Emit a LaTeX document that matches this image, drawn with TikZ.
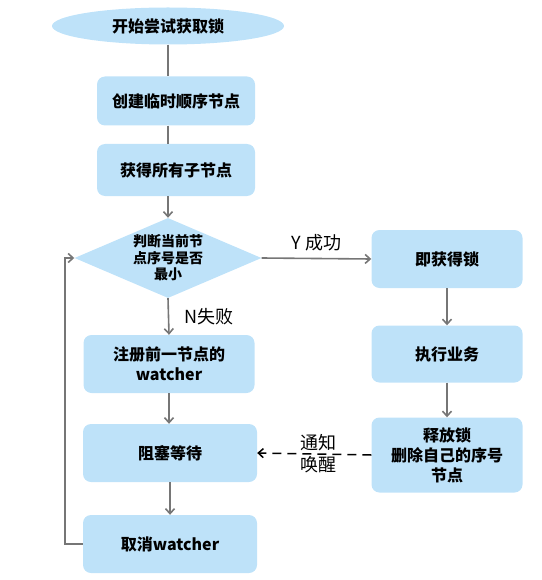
\documentclass[tikz,border=0pt]{standalone}
\usepackage{fontspec}
\setmainfont{Noto Sans CJK SC}
\usepackage{tikz}
\usetikzlibrary{positioning, arrows.meta, shapes.geometric}
\definecolor{boxblue}{RGB}{190, 226, 249}
\definecolor{linegray}{RGB}{118, 118, 118}
\newcommand{\boxfont}{\fontsize{16}{20}\selectfont\bfseries}
\newcommand{\diafont}{\fontsize{14}{16.5}\selectfont\bfseries}
\newcommand{\labelfont}{\fontsize{18}{22}\selectfont}

\begin{document}
\begin{tikzpicture}[x=1pt, y=-1pt,
  flowbox/.style={fill=boxblue, rounded corners=8pt, inner sep=0pt, align=center, font=\boxfont},
  flowline/.style={draw=linegray, line width=1.6pt},
  flowarrow/.style={flowline, -{Straight Barb[length=5pt, width=9pt]}},
  notifyarrow/.style={draw=black, line width=1.5pt, dash pattern=on 9pt off 6pt, -{Straight Barb[length=5pt, width=9pt]}}]
\useasboundingbox (0,0) rectangle (541,580);
% left column
\node[flowbox, ellipse, minimum width=232pt, minimum height=37pt] (start) at (168,26) {开始尝试获取锁};
\node[flowbox, minimum width=158pt, minimum height=49pt] (create) at (176,101) {创建临时顺序节点};
\node[flowbox, minimum width=158pt, minimum height=52pt] (children) at (176,170) {获得所有子节点};
\node[flowbox, diamond, sharp corners, aspect=2.3, minimum width=187pt, minimum height=80pt, font=\diafont] (judge) at (168,258) {判断当前节\\点序号是否\\最小};
\node[flowbox, minimum width=171pt, minimum height=58pt] (watch) at (169,364) {注册前一节点的\\watcher};
\node[flowbox, minimum width=174pt, minimum height=58pt] (block) at (170,453) {阻塞等待};
\node[flowbox, minimum width=174pt, minimum height=58pt] (cancel) at (170,544) {取消watcher};
% right column
\node[flowbox, minimum width=151pt, minimum height=58pt] (got) at (447,259) {即获得锁};
\node[flowbox, minimum width=151pt, minimum height=57pt] (work) at (447,354) {执行业务};
\node[flowbox, minimum width=151pt, minimum height=75pt] (release) at (447,455) {释放锁\\删除自己的序号\\节点};
% connectors
\draw[flowline] (start.south) -- (start.south |- create.north);
\draw[flowline] (start.south |- create.south) -- (start.south |- children.north);
\draw[flowarrow] (judge.north |- children.south) -- (judge.north);
\draw[flowarrow] (judge.east) -- (got.west) node[midway, above=3pt, font=\labelfont] (yes) {Y 成功};
\draw[flowarrow] (judge.south) -- (watch.north) node[midway, right=12pt, font=\labelfont] (no) {N失败};
\draw[flowarrow] (watch.south) -- (watch.south |- block.north);
\draw[flowarrow] (block.south) -- (cancel.north);
\draw[flowarrow] (cancel.west) -- ++(-18,0) |- (judge.west);
\draw[flowarrow] (got.south) -- (work.north);
\draw[flowarrow] (work.south) -- (release.north);
\draw[notifyarrow] (release.west) -- (block.east) node[midway, xshift=4pt, align=center, font=\labelfont] (notify) {通知\\唤醒};
\end{tikzpicture}
\end{document}
